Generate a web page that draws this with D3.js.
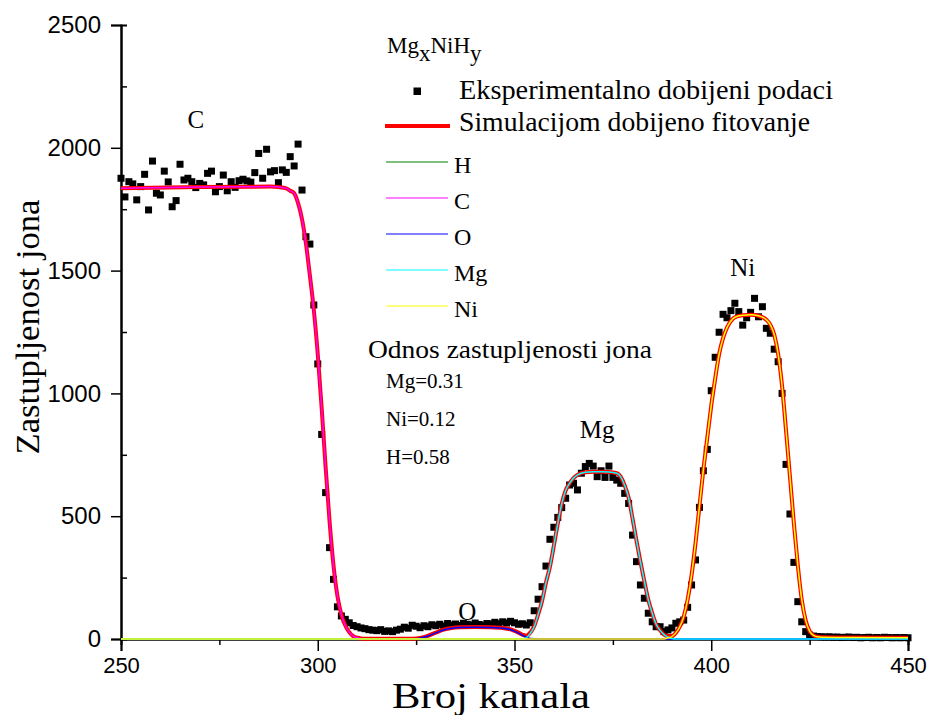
<!DOCTYPE html>
<html>
<head>
<meta charset="utf-8">
<script src="https://cdn.jsdelivr.net/npm/d3@7"></script>
<style>
  body { margin: 0; background: #fff; }
  svg { display: block; }
</style>
</head>
<body>
<div id="chart"></div>
<script>
// experimental points, one per channel starting at 250
var expStart = 250;
var expCounts = [
  1876, 1800, 1862, 1853, 1788, 1842, 1892, 1747, 1946, 1815,
  1808, 1905, 1861, 1760, 1785, 1933, 1869, 1876, 1862, 1838,
  1855, 1849, 1896, 1905, 1821, 1842, 1889, 1825, 1862, 1839,
  1866, 1872, 1865, 1860, 1899, 1977, 1876, 1994, 1902, 1907,
  1858, 1910, 1900, 1964, 1926, 2015, 1828, 1638, 1608, 1360,
  1120, 833, 596, 372, 243, 131, 94, 80, 66, 55,
  50, 45, 42, 38, 36, 34, 38, 31, 33, 30,
  36, 40, 48, 44, 56, 52, 46, 54, 50, 58,
  54, 60, 53, 63, 57, 61, 55, 64, 60, 57,
  65, 59, 56, 63, 61, 68, 62, 70, 65, 72,
  66, 60, 62, 57, 66, 115, 162, 213, 297, 406,
  455, 495, 535, 573, 627, 634, 607, 675, 702, 715,
  704, 661, 685, 658, 704, 658, 647, 634, 593, 552,
  423, 315, 220, 166, 105, 70, 50, 50, 30, 37,
  45, 64, 70, 77, 129, 220, 322, 536, 685, 772,
  1011, 1147, 1249, 1322, 1308, 1337, 1367, 1333, 1278, 1308,
  1330, 1387, 1312, 1353, 1265, 1245, 1180, 1129, 1000, 711,
  509, 312, 152, 70, 30, 16, 12, 10, 9, 8,
  9, 7, 8, 6, 7, 8, 6, 7, 5, 6,
  7, 5, 6, 5, 7, 6, 5, 6, 5, 6,
  5
];

// simulated fit (sum)
var fitChannels = [250, 270, 288, 290, 292, 293, 294, 295, 296, 297, 298, 299, 300, 301, 302, 303, 304, 305, 306, 307, 308, 309, 310, 311, 312, 320, 324, 326, 328, 330, 332, 334, 336, 340, 344, 347, 349, 350, 351, 352, 353, 354, 355, 356, 357, 358, 359, 360, 361, 362, 363, 364, 365, 366, 368, 370, 372, 374, 376, 377, 378, 379, 380, 381, 382, 383, 384, 385, 386, 387, 388, 389, 390, 391, 392, 393, 394, 395, 396, 397, 398, 399, 400, 401, 402, 403, 404, 405, 406, 408, 410, 412, 414, 415, 416, 417, 418, 419, 420, 421, 422, 423, 424, 425, 426, 427, 428, 435, 450];
var fitCounts = [1835, 1840, 1842, 1840, 1835, 1825, 1815, 1775, 1710, 1610, 1480, 1340, 1160, 940, 700, 480, 300, 175, 100, 55, 28, 12, 5, 2, 1, 1, 1, 4, 13, 26, 38, 45, 48, 49, 48, 45, 39, 33, 26, 18, 13, 26, 52, 100, 155, 230, 294, 380, 470, 550, 605, 634, 655, 668, 679, 681, 681, 680, 675, 660, 625, 575, 490, 400, 315, 235, 160, 105, 60, 35, 18, 12, 12, 25, 50, 90, 160, 260, 390, 540, 690, 820, 950, 1060, 1160, 1225, 1268, 1295, 1310, 1318, 1320, 1316, 1300, 1280, 1240, 1160, 1030, 850, 661, 470, 300, 160, 75, 32, 15, 9, 7, 6, 5];

// components
var hChannels = [250, 450];
var hCounts = [0, 0];
var cChannels = [250, 270, 288, 290, 292, 293, 294, 295, 296, 297, 298, 299, 300, 301, 302, 303, 304, 305, 306, 307, 308, 309, 310, 311, 312, 450];
var cCounts = [1835, 1840, 1842, 1840, 1835, 1825, 1815, 1775, 1710, 1610, 1480, 1340, 1160, 940, 700, 480, 300, 175, 100, 55, 28, 12, 5, 2, 0, 0];
var oChannels = [250, 324, 326, 328, 330, 332, 334, 336, 340, 344, 347, 349, 350, 351, 352, 353, 354, 356, 450];
var oCounts = [0, 0, 3, 12, 25, 37, 44, 47, 48, 47, 44, 38, 32, 24, 15, 7, 2, 0, 0];
var mgChannels = [250, 352, 353, 354, 355, 356, 357, 358, 359, 360, 361, 362, 363, 364, 365, 366, 368, 370, 372, 374, 376, 377, 378, 379, 380, 381, 382, 383, 384, 385, 386, 387, 388, 389, 390, 391, 450];
var mgCounts = [0, 0, 5, 23, 50, 100, 155, 230, 294, 380, 470, 550, 605, 634, 655, 668, 679, 681, 681, 680, 675, 660, 625, 575, 490, 400, 315, 235, 160, 105, 60, 35, 18, 7, 2, 0, 0];
var niChannels = [250, 388, 389, 390, 391, 392, 393, 394, 395, 396, 397, 398, 399, 400, 401, 402, 403, 404, 405, 406, 408, 410, 412, 414, 415, 416, 417, 418, 419, 420, 421, 422, 423, 424, 425, 426, 427, 428, 435, 450];
var niCounts = [0, 0, 5, 10, 25, 50, 90, 160, 260, 390, 540, 690, 820, 950, 1060, 1160, 1225, 1268, 1295, 1310, 1318, 1320, 1316, 1300, 1280, 1240, 1160, 1030, 850, 661, 470, 300, 160, 75, 32, 15, 9, 7, 6, 5];

var xTicks = [250, 300, 350, 400, 450];
var yTicks = [0, 500, 1000, 1500, 2000, 2500];
var componentNames = ['H', 'C', 'O', 'Mg', 'Ni'];
var componentColors = ['#008000', '#ff00ff', '#0000ff', '#00ffff', '#ffff00'];
var ratioLabels = ['Mg=0.31', 'Ni=0.12', 'H=0.58'];
var peakLabels = [
  {name: 'C', ch: 269, v: 2080},
  {name: 'O', ch: 338, v: 78},
  {name: 'Mg', ch: 371, v: 820},
  {name: 'Ni', ch: 408, v: 1480}
];

var width = 928, height = 715;
var margin = {top: 25, right: 20, bottom: 76, left: 121};
var serif = "'Liberation Serif', 'Times New Roman', serif";
var sans = "'Liberation Sans', Arial, sans-serif";

var svg = d3.select('#chart').append('svg')
    .attr('width', width)
    .attr('height', height);

var x = d3.scaleLinear().domain([250, 450]).range([margin.left, width - margin.right]);
var y = d3.scaleLinear().domain([0, 2500]).range([height - margin.bottom, margin.top]);

// axes
var xAxis = svg.append('g')
    .attr('transform', 'translate(0,' + y(0) + ')')
    .call(d3.axisBottom(x).tickValues(xTicks).tickSize(12).tickPadding(6).tickFormat(d3.format('d')));
svg.append('g')
    .attr('transform', 'translate(0,' + y(0) + ')')
    .call(d3.axisBottom(x).tickValues(d3.range(275, 450, 50)).tickSize(6).tickFormat(''));
var yAxis = svg.append('g')
    .attr('transform', 'translate(' + x(250) + ',0)')
    .call(d3.axisLeft(y).tickValues(yTicks).tickSize(10).tickPadding(10).tickFormat(d3.format('d')));
svg.append('g')
    .attr('transform', 'translate(' + x(250) + ',0)')
    .call(d3.axisRight(y).tickValues(d3.range(250, 2500, 500)).tickSize(6).tickFormat(''));

svg.selectAll('.domain').attr('stroke', '#000').attr('stroke-width', 2);
svg.selectAll('.tick line').attr('stroke', '#000').attr('stroke-width', 1.5);
svg.selectAll('.tick text')
    .attr('fill', '#000')
    .style('font-family', sans);
xAxis.selectAll('.tick text').style('font-size', '22px');
yAxis.selectAll('.tick text').style('font-size', '24px');

svg.append('text')
    .attr('x', 491)
    .attr('y', 708)
    .attr('text-anchor', 'middle')
    .attr('textLength', 198)
    .attr('lengthAdjust', 'spacingAndGlyphs')
    .style('font-family', serif)
    .style('font-size', '36px')
    .text('Broj kanala');

svg.append('text')
    .attr('transform', 'translate(39,327) rotate(-90)')
    .attr('text-anchor', 'middle')
    .attr('textLength', 255)
    .attr('lengthAdjust', 'spacingAndGlyphs')
    .style('font-family', serif)
    .style('font-size', '33px')
    .text('Zastupljenost jona');

// experimental points
var pts = expCounts.map(function(v, i) { return {ch: expStart + i, v: v}; });
svg.append('g').selectAll('rect')
    .data(pts)
    .enter()
    .append('rect')
    .attr('x', function(d) { return x(d.ch) - 3.5; })
    .attr('y', function(d) { return y(d.v) - 3.5; })
    .attr('width', 7)
    .attr('height', 7)
    .attr('fill', '#000');

// lines
var line = d3.line()
    .x(function(d) { return x(d[0]); })
    .y(function(d) { return y(d[1]); })
    .curve(d3.curveMonotoneX);

function pairs(chs, vals) {
  return chs.map(function(c, i) { return [c, vals[i]]; });
}

svg.append('path')
    .attr('d', line(pairs(fitChannels, fitCounts)))
    .attr('fill', 'none')
    .attr('stroke', '#ff0000')
    .attr('stroke-width', 4);

var comps = [
  pairs(hChannels, hCounts),
  pairs(cChannels, cCounts),
  pairs(oChannels, oCounts),
  pairs(mgChannels, mgCounts),
  pairs(niChannels, niCounts)
];
comps.forEach(function(c, i) {
  svg.append('path')
      .attr('d', line(c))
      .attr('fill', 'none')
      .attr('stroke', componentColors[i])
      .attr('stroke-width', 1.5);
});

// peak labels
svg.append('g').selectAll('text')
    .data(peakLabels)
    .enter()
    .append('text')
    .attr('x', function(d) { return x(d.ch); })
    .attr('y', function(d) { return y(d.v); })
    .attr('text-anchor', 'middle')
    .style('font-family', serif)
    .style('font-size', '25px')
    .text(function(d) { return d.name; });

// title Mg_xNiH_y
var title = svg.append('text')
    .attr('x', 387)
    .attr('y', 53)
    .style('font-family', serif)
    .style('font-size', '23px');
title.append('tspan').text('Mg');
title.append('tspan').attr('dy', 8).text('x');
title.append('tspan').attr('dy', -8).text('NiH');
title.append('tspan').attr('dy', 8).text('y');

// legend
var lg = svg.append('g').style('font-family', serif);
lg.append('rect').attr('x', 413.5).attr('y', 87.5).attr('width', 7.5).attr('height', 7.5).attr('fill', '#000');
lg.append('text').attr('x', 459).attr('y', 99).style('font-size', '27px')
    .attr('textLength', 374).attr('lengthAdjust', 'spacingAndGlyphs')
    .text('Eksperimentalno dobijeni podaci');
lg.append('line').attr('x1', 385).attr('x2', 450).attr('y1', 126).attr('y2', 126)
    .attr('stroke', '#ff0000').attr('stroke-width', 4);
lg.append('text').attr('x', 459).attr('y', 131).style('font-size', '27px')
    .attr('textLength', 351).attr('lengthAdjust', 'spacingAndGlyphs')
    .text('Simulacijom dobijeno fitovanje');

componentNames.forEach(function(n, i) {
  var ly = 162 + i * 36;
  lg.append('line').attr('x1', 386).attr('x2', 448).attr('y1', ly).attr('y2', ly)
      .attr('stroke', componentColors[i]).attr('stroke-width', 1.2);
  lg.append('text').attr('x', 454).attr('y', ly + 11).style('font-size', '24px').text(n);
});

// abundance ratio note
var note = svg.append('g').style('font-family', serif);
note.append('text').attr('x', 368).attr('y', 358).style('font-size', '25px')
    .attr('textLength', 284).attr('lengthAdjust', 'spacingAndGlyphs')
    .text('Odnos zastupljenosti jona');
note.selectAll('.r')
    .data(ratioLabels)
    .enter()
    .append('text')
    .attr('x', 386)
    .attr('y', function(d, i) { return 388 + i * 38; })
    .style('font-size', '21px')
    .text(function(d) { return d; });
</script>
</body>
</html>
